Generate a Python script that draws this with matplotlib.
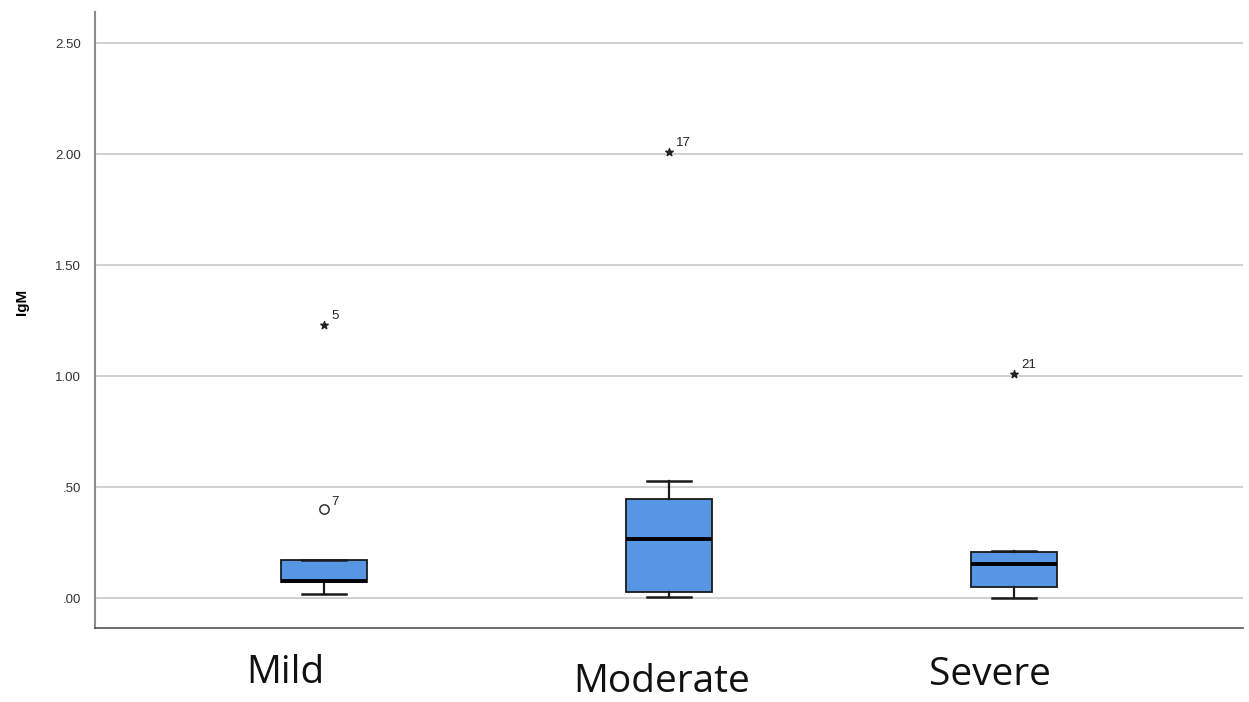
import matplotlib.pyplot as plt

# Box statistics (IgM by severity group)
groups = ['Mild', 'Moderate', 'Severe']
whisker_low = [0.018, 0.006, 0.0]
q1 = [0.072, 0.028, 0.048]
medians = [0.078, 0.266, 0.152]
q3 = [0.170, 0.446, 0.207]
whisker_high = [0.172, 0.528, 0.210]

# Outliers (circle) and extremes (star) with case labels
outlier_group = [1]
outlier_value = [0.40]
outlier_label = ['7']
extreme_group = [1, 2, 3]
extreme_value = [1.23, 2.01, 1.01]
extreme_label = ['5', '17', '21']

yticks = [0.0, 0.5, 1.0, 1.5, 2.0, 2.5]
ytick_labels = ['.00', '.50', '1.00', '1.50', '2.00', '2.50']

fig = plt.figure(figsize=(12.49, 7.02), dpi=100)
ax = fig.add_axes([95 / 1249, 1 - 628 / 702, (1243 - 95) / 1249, (628 - 12) / 702])

stats = []
for i, g in enumerate(groups):
    stats.append({'label': g, 'whislo': whisker_low[i], 'q1': q1[i], 'med': medians[i],
                  'q3': q3[i], 'whishi': whisker_high[i], 'fliers': []})

ax.bxp(stats, positions=[1, 2, 3], widths=0.25, capwidths=0.125, patch_artist=True,
       showfliers=False,
       boxprops=dict(facecolor='#5796E3', edgecolor='#1a1a1a', linewidth=1.3),
       medianprops=dict(color='black', linewidth=2.8),
       whiskerprops=dict(color='#1a1a1a', linewidth=1.6),
       capprops=dict(color='#1a1a1a', linewidth=1.8), zorder=3)

ax.scatter(outlier_group, outlier_value, marker='o', s=45, facecolors='white',
           edgecolors='#333333', linewidths=1.1, zorder=4)
ax.scatter(extreme_group, extreme_value, marker='*', s=32, color='#222222', zorder=4)
for x, y, t in zip(outlier_group, outlier_value, outlier_label):
    ax.annotate(t, (x, y), xytext=(5, 3), textcoords='offset points', fontsize=9.5,
                color='#222222', family='Liberation Sans')
for x, y, t in zip(extreme_group, extreme_value, extreme_label):
    ax.annotate(t, (x, y), xytext=(5, 4), textcoords='offset points', fontsize=9.5,
                color='#222222', family='Liberation Sans')

ax.set_xlim(0.336, 3.664)
ax.set_ylim(-0.135, 2.64)
ax.set_yticks(yticks)
ax.set_yticklabels(ytick_labels, fontsize=9.5, color='#333333', family='Liberation Sans')
ax.tick_params(axis='y', length=0, pad=10)
ax.set_xticks([])
ax.grid(axis='y', color='#c8c8c8', linewidth=1.2, zorder=0)
ax.set_axisbelow(True)
for side in ['top', 'right']:
    ax.spines[side].set_visible(False)
ax.spines['left'].set_color('#8c8c8c')
ax.spines['left'].set_linewidth(1.5)
ax.spines['bottom'].set_color('#555555')
ax.spines['bottom'].set_linewidth(1.2)

fig.text(22 / 1249, 1 - 302 / 702, 'IgM', rotation=90, fontsize=11, fontweight='bold',
         family='Liberation Sans', ha='center', va='center')

# Category labels placed as free text under the axis
label_x = [285, 662, 990]
label_y = [673, 682, 675]
for g, px, py in zip(groups, label_x, label_y):
    fig.text(px / 1249, 1 - py / 702, g, fontsize=28, family='Open Sans',
             ha='center', va='center', color='#111111')

fig.savefig('out.png', dpi=100)
